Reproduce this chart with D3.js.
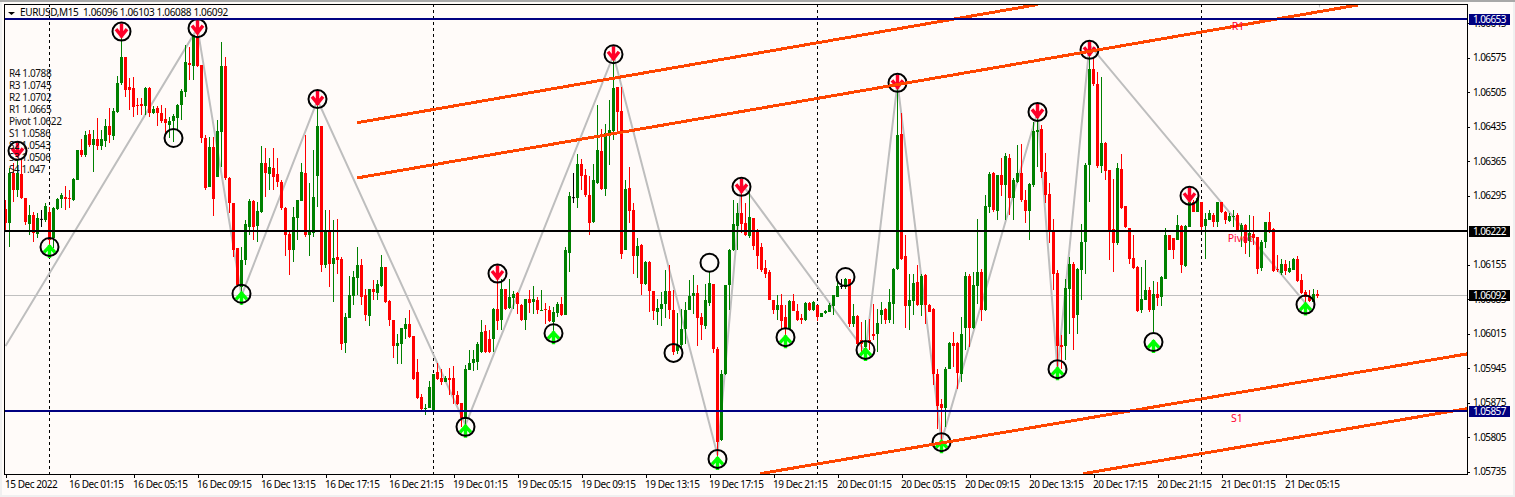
<!DOCTYPE html>
<html><head><meta charset="utf-8">
<script src="https://cdn.jsdelivr.net/npm/d3@7/dist/d3.min.js"></script>
<style>html,body{margin:0;padding:0;background:#f0f0f0;overflow:hidden}svg{display:block}text{font-family:"Noto Sans",sans-serif}</style>
</head><body><div id="chart"></div>
<script>
const symbolTitle="EURUSD,M15  1.06096 1.06103 1.06088 1.06092";
// candle prices, as points above 1.05000
const basePrice=1.05;
const opens=[1268,1240,1341,1306,1339,1290,1237,1256,1217,1248,1246,1262,1209,1268,1288,1292,1290,1286,1327,1388,1377,1420,1398,1410,1396,1406,1436,1416,1465,1524,1576,1515,1513,1479,1481,1477,1513,1463,1473,1463,1451,1438,1447,1453,1479,1505,1564,1558,1619,1560,1412,1313,1394,1333,1424,1558,1331,1280,1189,1110,1164,1231,1284,1233,1262,1361,1339,1351,1339,1323,1270,1217,1185,1250,1284,1341,1215,1219,1335,1436,1154,1225,1156,1170,1166,996,1047,1091,1128,1154,1093,1051,1106,1098,1112,1150,1081,1043,990,994,1024,1035,1010,937,886,862,864,858,937,925,917,925,925,891,874,842,941,955,957,978,1020,1004,1004,1065,1043,1106,1067,1087,1098,1073,1043,1085,1079,1083,1061,1065,1063,1039,1057,1075,1053,1179,1292,1290,1359,1337,1296,1242,1321,1386,1309,1420,1426,1515,1467,1185,1311,1266,1173,1195,1116,1160,1102,1059,1065,1075,1102,1063,980,992,1024,1063,1091,1098,1049,1031,1077,1116,984,799,933,1114,1185,1233,1260,1239,1213,1250,1225,1191,1148,1140,1083,1063,1073,1049,1024,1081,1061,1047,1043,1077,1063,1073,1049,1057,1059,1071,1089,1112,1110,1126,1035,1051,1002,988,1002,1014,1014,1053,1065,1043,1075,1146,1420,1173,1071,1081,1120,1073,1134,1073,1065,933,872,864,943,996,996,933,1026,1132,1026,1112,1140,1063,1272,1341,1264,1337,1317,1371,1290,1323,1341,1286,1264,1317,1424,1430,1343,1298,1225,1138,992,990,1106,1156,1053,1144,1201,1357,1552,1522,1355,1402,1347,1227,1199,1349,1274,1229,1168,1150,1063,1083,1104,1063,1095,1089,1126,1215,1209,1205,1233,1152,1231,1282,1262,1282,1233,1246,1256,1242,1282,1262,1244,1252,1256,1221,1235,1203,1217,1211,1148,1201,1242,1227,1146,1138,1156,1140,1144,1166,1124,1100,1091,1079,1096];
const highs=[1286,1351,1361,1367,1367,1290,1276,1262,1260,1266,1280,1272,1272,1290,1300,1315,1306,1331,1388,1410,1426,1428,1428,1453,1428,1451,1473,1473,1538,1625,1576,1534,1536,1493,1493,1515,1515,1477,1477,1479,1473,1455,1461,1481,1511,1601,1597,1621,1651,1560,1418,1414,1414,1449,1607,1576,1333,1280,1189,1191,1246,1288,1286,1282,1396,1392,1371,1392,1371,1327,1272,1225,1272,1286,1361,1418,1321,1388,1489,1436,1266,1266,1246,1248,1170,1057,1132,1142,1191,1166,1106,1106,1124,1124,1175,1150,1083,1043,1014,1026,1047,1063,1010,964,893,872,919,933,955,943,929,945,949,899,874,951,982,982,998,1043,1033,1022,1067,1156,1126,1106,1126,1102,1100,1075,1085,1104,1112,1089,1104,1077,1071,1069,1079,1089,1191,1302,1341,1379,1369,1349,1335,1359,1479,1430,1440,1489,1580,1515,1515,1327,1353,1280,1209,1197,1162,1162,1102,1085,1100,1144,1154,1104,1057,1065,1079,1124,1134,1114,1057,1116,1140,1116,988,941,1114,1187,1286,1280,1327,1280,1302,1250,1227,1199,1164,1144,1083,1093,1095,1073,1083,1095,1075,1055,1079,1079,1081,1073,1057,1063,1077,1093,1126,1126,1128,1126,1075,1053,1039,1043,1045,1075,1065,1079,1067,1106,1148,1524,1463,1215,1136,1136,1154,1136,1136,1075,1067,943,882,947,998,1018,998,1049,1140,1136,1140,1248,1146,1296,1343,1343,1337,1371,1382,1379,1331,1398,1400,1306,1321,1444,1463,1438,1382,1321,1248,1144,1012,1126,1170,1160,1148,1237,1361,1607,1576,1546,1536,1404,1347,1329,1361,1379,1274,1229,1215,1152,1150,1164,1110,1122,1120,1132,1229,1215,1209,1256,1235,1235,1292,1286,1292,1282,1260,1266,1260,1282,1282,1264,1260,1266,1260,1240,1237,1256,1254,1211,1205,1242,1262,1229,1175,1167,1164,1162,1168,1172,1136,1104,1104,1106,1103];
const lows=[1221,1191,1282,1292,1288,1235,1215,1201,1209,1231,1242,1189,1189,1266,1270,1266,1270,1284,1327,1373,1373,1394,1343,1388,1388,1394,1402,1408,1463,1520,1495,1469,1455,1459,1459,1459,1455,1461,1436,1442,1420,1412,1404,1426,1449,1495,1530,1530,1556,1402,1306,1313,1254,1333,1353,1327,1260,1171,1110,1073,1154,1215,1205,1201,1260,1292,1306,1306,1313,1266,1173,1134,1160,1205,1284,1211,1173,1211,1272,1140,1148,1110,1079,1136,982,976,1047,1073,1093,1073,1041,1031,1083,1083,1110,1077,1031,966,953,953,1004,1006,921,882,856,850,864,858,921,911,917,891,872,870,826,822,941,939,941,976,976,976,978,1022,1022,1063,1065,1065,1055,1041,1022,1057,1055,1055,1061,1035,1039,994,1049,1051,1053,1140,1280,1270,1306,1292,1215,1240,1319,1306,1294,1357,1408,1424,1166,1185,1240,1136,1128,1093,1114,1059,1043,1033,1031,1047,1045,972,974,982,994,1063,1055,990,1002,1024,1071,976,759,797,931,1063,1183,1185,1219,1213,1209,1185,1146,1140,1128,1083,1055,1043,1024,994,1024,1061,1041,1035,1041,1061,1061,1041,1049,1055,1059,1053,1089,1106,1106,1028,1028,988,974,964,982,1002,978,1035,1035,1037,1035,1144,1164,1026,1022,1053,1071,1051,1035,1059,911,822,795,826,943,947,903,917,982,988,1024,1075,1041,1061,1260,1262,1246,1294,1246,1256,1246,1321,1282,1240,1205,1313,1353,1331,1280,1199,1104,941,943,962,1014,982,1014,1083,1136,1282,1517,1351,1341,1327,1164,1140,1195,1268,1229,1156,1146,1059,1057,1083,1059,1018,1071,1071,1126,1185,1166,1205,1138,1150,1231,1262,1262,1221,1166,1246,1231,1231,1260,1237,1242,1231,1221,1191,1177,1170,1195,1136,1142,1189,1219,1140,1140,1134,1134,1138,1144,1120,1095,1063,1079,1079,1088];
const closes=[1240,1341,1306,1341,1290,1242,1256,1219,1250,1248,1274,1205,1270,1288,1296,1288,1288,1329,1388,1377,1418,1398,1410,1396,1410,1436,1418,1467,1524,1576,1509,1509,1475,1477,1477,1513,1463,1471,1463,1447,1442,1446,1457,1479,1507,1566,1560,1621,1558,1412,1311,1394,1288,1426,1558,1331,1280,1185,1114,1164,1237,1284,1231,1264,1361,1341,1353,1333,1323,1270,1215,1185,1252,1286,1343,1215,1221,1292,1436,1154,1225,1156,1168,1164,994,1049,1093,1130,1154,1089,1053,1106,1100,1116,1150,1079,1043,990,996,1026,1035,1008,923,884,862,864,907,933,923,917,925,921,891,872,844,943,955,963,994,1018,978,978,1065,1041,1106,1065,1089,1095,1075,1043,1085,1077,1085,1063,1063,1063,1041,1059,1075,1053,1185,1294,1292,1359,1335,1296,1240,1327,1388,1309,1422,1428,1513,1465,1177,1308,1264,1173,1193,1116,1160,1102,1061,1067,1075,1102,1063,978,992,1024,1063,1091,1098,1047,1033,1083,1118,984,795,933,1114,1185,1237,1260,1237,1215,1252,1193,1173,1144,1136,1083,1063,1073,1041,1024,1081,1061,1043,1043,1077,1063,1079,1049,1057,1061,1073,1093,1112,1112,1126,1035,1051,994,994,998,996,1010,1036,1063,1043,1079,1146,1418,1166,1071,1083,1118,1073,1132,1073,1059,933,868,864,943,996,990,935,1014,1132,1026,1114,1140,1063,1274,1339,1266,1337,1317,1375,1290,1327,1341,1286,1264,1319,1426,1428,1343,1296,1221,1136,990,988,1108,1156,1047,1146,1201,1357,1552,1522,1355,1402,1345,1221,1199,1351,1270,1231,1166,1148,1061,1085,1104,1063,1095,1087,1130,1215,1185,1185,1235,1154,1233,1282,1262,1290,1231,1248,1260,1242,1282,1262,1246,1254,1254,1223,1235,1199,1219,1209,1146,1201,1242,1223,1142,1144,1156,1142,1148,1166,1122,1097,1089,1081,1095,1092];
// x axis
const axisBarIndex=[0,16,32,48,64,80,96,112,128,144,160,176,192,208,224,240,256,272,288,304,320];
const axisTimeLabels=["15 Dec 2022","16 Dec 01:15","16 Dec 05:15","16 Dec 09:15","16 Dec 13:15","16 Dec 17:15","16 Dec 21:15","19 Dec 01:15","19 Dec 05:15","19 Dec 09:15","19 Dec 13:15","19 Dec 17:15","19 Dec 21:15","20 Dec 01:15","20 Dec 05:15","20 Dec 09:15","20 Dec 13:15","20 Dec 17:15","20 Dec 21:15","21 Dec 01:15","21 Dec 05:15"];
const priceTicks=[1.06645,1.06575,1.06505,1.06435,1.06365,1.06295,1.06155,1.06085,1.06015,1.05945,1.05875,1.05805,1.05735];
const daySeparators=[11,107,203,299];
// zigzag vertices
const zigIndex=[0,48,59,78,115,152,178,184,215,223,234,258,263,271,325];
const zigPoints=[990,1635,1092,1489,830,1580,769,1320,978,1524,797,1465,941,1601,1077];
// marks
const downIndex=[3,29,48,78,123,152,184,223,258,271,296];
const downPoints=[1386,1628,1635,1491,1137,1582,1313,1524,1465,1591,1295];
const upIndex=[11,59,115,137,178,195,215,234,263,287,325];
const upPoints=[1191,1096,826,1016,761,1008,982,795,943,998,1074];
const ringIndex=[42,167,176,210];
const ringPoints=[1412,976,1159,1130];
// trend lines
const channelStart=[[88,1443],[88,1331],[188.75,731],[269.5,731]];
const channelEnd=[[258.25,1683],[338.25,1682],[365.5,974],[365.5,863]];
// levels
const levelR1=1.06653,levelPivot=1.06222,levelS1=1.05857,bidPrice=1.06092;
const pivotNames=["R4 1.0788","R3 1.0745","R2 1.0702","R1 1.0665","Pivot 1.0622","S1 1.0586","S2 1.0543","S3 1.0506","S4 1.047"];

const W=1515,H=497,L=5,T=4,R=1467,B=474;
const x=d3.scaleLinear().domain([0,100]).range([5,405]);
const y=d3.scaleLinear().domain([1.05735,1.06575]).range([471.7,57.7]);
const pr=p=>basePrice+p/1e5;
const svg=d3.select("#chart").append("svg").attr("width",W).attr("height",H);
svg.append("rect").attr("x",0).attr("y",0).attr("width",W).attr("height",H).attr("fill","#f0f0f0");
svg.append("rect").attr("x",0).attr("y",0).attr("width",W).attr("height",2).attr("fill","#a8a8a8");
svg.append("rect").attr("x",2).attr("y",2).attr("width",1511).attr("height",493).attr("fill","#fffbf9");
svg.append("clipPath").attr("id","c").append("rect").attr("x",L).attr("y",T).attr("width",R-L).attr("height",B-T);
const g=svg.append("g").attr("clip-path","url(#c)");
const crisp=s=>s.attr("shape-rendering","crispEdges");

crisp(g.append("line").attr("x1",L).attr("x2",R).attr("y1",y(bidPrice)).attr("y2",y(bidPrice)).attr("stroke","#c0c0c0"));
crisp(g.selectAll(".sep").data(daySeparators).join("line").attr("x1",d=>x(d)+.5).attr("x2",d=>x(d)+.5).attr("y1",T).attr("y2",B)
 .attr("stroke","#000").attr("stroke-dasharray","3,3"));

const zig=d3.line().x(d=>x(d[0])+.5).y(d=>y(pr(d[1])));
g.append("path").attr("d",zig(zigIndex.map((d,i)=>[d,zigPoints[i]]))).attr("fill","none").attr("stroke","#bebebe").attr("stroke-width",2);
g.append("path").attr("d",zig([[327,1722],[328.5,1676],[330,1722]])).attr("fill","#bebebe").attr("stroke","none");

const col=i=>closes[i]>opens[i]?"#008000":closes[i]<opens[i]?"#ff0000":"#000";
const bars=d3.range(opens.length);
crisp(g.selectAll(".wick").data(bars).join("rect").attr("x",i=>x(i)).attr("width",1)
 .attr("y",i=>y(pr(highs[i]))).attr("height",i=>Math.max(1,y(pr(lows[i]))-y(pr(highs[i])))).attr("fill",col));
crisp(g.selectAll(".body").data(bars).join("rect").attr("x",i=>x(i)-1).attr("width",3)
 .attr("y",i=>y(pr(Math.max(opens[i],closes[i])))).attr("height",i=>Math.max(1,Math.abs(y(pr(opens[i]))-y(pr(closes[i])))))
 .attr("fill",col).attr("opacity",i=>closes[i]===opens[i]?0:1));
g.selectAll(".doji").data(bars.filter(i=>closes[i]===opens[i])).join("rect").attr("x",i=>x(i)-1).attr("width",3).attr("y",i=>y(pr(opens[i]))).attr("height",1).attr("fill","#000");

const arrow=(sel,idx,pts,color,d)=>{
 const m=sel.selectAll(null).data(idx.map((v,i)=>[v,pts[i]])).join("g").attr("transform",v=>`translate(${x(v[0])+.5},${y(pr(v[1]))})`);
 m.append("path").attr("d",d).attr("fill","none").attr("stroke",color).attr("stroke-width",3.4);
 m.append("circle").attr("r",9).attr("fill","none").attr("stroke","#000").attr("stroke-width",2);
};
arrow(g,downIndex,downPoints,"#ff0028","M0,-8L0,6M-5.5,-2.5L0,4.5L5.5,-2.5");
arrow(g,upIndex,upPoints,"#00ff00","M0,-2L0,11M-5.5,5.5L0,-.5L5.5,5.5");
g.selectAll(".ring").data(ringIndex).join("circle").attr("cx",d=>x(d)+.5).attr("cy",(d,i)=>y(pr(ringPoints[i]))).attr("r",9).attr("fill","none").attr("stroke","#000").attr("stroke-width",2);

crisp(g.selectAll(".chan").data(channelStart).join("line").attr("x1",d=>x(d[0])).attr("y1",d=>y(pr(d[1])))
 .attr("x2",(d,i)=>x(channelEnd[i][0])).attr("y2",(d,i)=>y(pr(channelEnd[i][1]))).attr("stroke","#ff4500").attr("stroke-width",3));
const hl=(p,c)=>crisp(g.append("line").attr("x1",L).attr("x2",R).attr("y1",y(p)-.5).attr("y2",y(p)-.5).attr("stroke",c).attr("stroke-width",2));
hl(levelR1,"#000080");hl(levelPivot,"#000");hl(levelS1,"#000080");

const lab=[["R1",1238,levelR1,7],["Pivot",1240,levelPivot,7],["S1",1237,levelS1,7]];
lab.forEach(d=>g.append("text").attr("x",d[1]).attr("y",y(d[2])+d[3]).attr("dy",".35em").attr("text-anchor","middle").attr("font-size",10.5).attr("fill","#ff0033").text(d[0]));

const small=(s,ls)=>s.attr("font-size",10).attr("letter-spacing",ls);
small(svg.selectAll(".pn").data(pivotNames).join("text").attr("x",9).attr("y",(d,i)=>73.5+i*12).attr("dy",".35em").attr("fill","#111").text(d=>d),-.4);

// frame
crisp(svg.append("rect").attr("x",L-.5).attr("y",T+.5).attr("width",R-L+.5).attr("height",B-T).attr("fill","none").attr("stroke","#000"));
// axes
const ay=svg.append("g").attr("transform",`translate(${R},0)`).call(d3.axisRight(y).tickValues(priceTicks).tickFormat(d3.format(".5f")).tickSize(3).tickPadding(3));
ay.select(".domain").remove();
small(ay.selectAll("text"),-.6).attr("fill","#000").style("font-family",'"Noto Sans",sans-serif');
crisp(ay.selectAll("line").attr("stroke","#000"));
const ax=svg.append("g").attr("transform",`translate(0.5,${B})`).call(d3.axisBottom(x).tickValues(axisBarIndex).tickFormat((d,i)=>axisTimeLabels[i]).tickSize(4).tickPadding(3));
ax.select(".domain").remove();
small(ax.selectAll("text").attr("text-anchor","start").attr("x",-1),-.45).attr("fill","#000").style("font-family",'"Noto Sans",sans-serif');
crisp(ax.selectAll("line").attr("stroke","#000"));
// price tags
[[levelR1,"#000080"],[levelPivot,"#000"],[bidPrice,"#000"],[levelS1,"#000080"]].forEach(d=>{
 crisp(svg.append("rect").attr("x",1469).attr("y",y(d[0])-5.5).attr("width",41).attr("height",11).attr("fill",d[1]));
 small(svg.append("text").attr("x",1473).attr("y",y(d[0])).attr("dy",".35em").attr("fill","#fff").text(d3.format(".5f")(d[0])),-.6);
});
// title
svg.append("path").attr("d","M8,12L15,12L11.5,15Z").attr("fill","#000");
small(svg.append("text").attr("x",20).attr("y",12.5).attr("dy",".35em").attr("fill","#000").attr("xml:space","preserve").style("white-space","pre").text(symbolTitle),-.35);
</script></body></html>
